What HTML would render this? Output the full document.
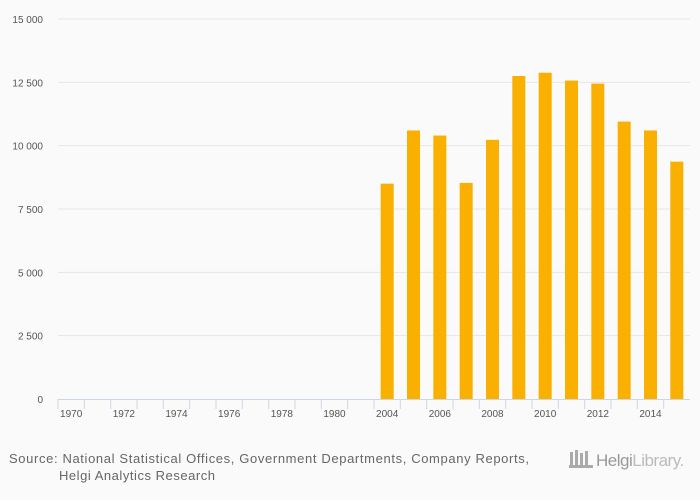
<!DOCTYPE html>
<html><head><meta charset="utf-8"><style>
body{margin:0;background:#fafafa;}
svg{display:block;font-family:"Liberation Sans",sans-serif;}
</style></head><body>
<svg width="700" height="500" id="c">
<rect width="700" height="500" fill="#fafafa"/>
<g id="grid"></g><g id="bars"></g><g id="xaxis"></g>
<text x="9" y="463" font-size="13" fill="#666" textLength="520" lengthAdjust="spacing">Source: National Statistical Offices, Government Departments, Company Reports,</text>
<text x="59" y="480" font-size="13" fill="#666" textLength="156" lengthAdjust="spacing">Helgi Analytics Research</text>
<g>
<rect x="570" y="452" width="3" height="14" fill="#aaa"/><rect x="575" y="450" width="3" height="16" fill="#aaa"/><rect x="580" y="453" width="3" height="13" fill="#aaa"/><rect x="585" y="451" width="3" height="15" fill="#aaa"/><rect x="569" y="465" width="24" height="3" fill="#aaa"/>
<text x="596" y="466" font-size="17" fill="#999" letter-spacing="-0.5">Helgi<tspan fill="#bbb">Library.</tspan></text>
</g>
</svg>
<script>
const categories=["1970","1971","1972","1973","1974","1975","1976","1977","1978","1979","1980","1981","2004","2005","2006","2007","2008","2009","2010","2011","2012","2013","2014","2015"];
const values=[null,null,null,null,null,null,null,null,null,null,null,null,8500,10600,10400,8530,10230,12750,12880,12570,12450,10950,10600,9370];
const yTicks=[0,2500,5000,7500,10000,12500,15000];
const yTickLabels=["0","2 500","5 000","7 500","10 000","12 500","15 000"];
const NS="http://www.w3.org/2000/svg";
const x0=58,x1=690,y0=399,y1=19,yMax=15000;
const bw=(x1-x0)/categories.length;
const y=v=>y0-(v/yMax)*(y0-y1);
function mk(t,a,p){const e=document.createElementNS(NS,t);for(const k in a)e.setAttribute(k,a[k]);p.appendChild(e);return e;}
const grid=document.getElementById('grid'),bars=document.getElementById('bars'),xa=document.getElementById('xaxis');
yTicks.forEach((v,i)=>{
 if(v>0){const l=mk('line',{x1:x0,x2:x1,y1:y(v),y2:y(v),stroke:'#e6e6e6','stroke-width':1},grid);
 
 }
 const t=mk('text',{x:43,y:y(v)+4,'font-size':10,fill:'#555','text-anchor':'end'},grid);
 t.textContent=yTickLabels[i];
 
 
});
const ax=mk('line',{x1:x0,x2:x1,y1:y0+0.5,y2:y0+0.5,stroke:'#ccd6eb','stroke-width':1},xa);


categories.forEach((c,i)=>{
 const tx=x0+i*bw;
 const tk=mk('line',{x1:tx,x2:tx,y1:y0,y2:y0+10,stroke:'#ccd6eb'},xa);
 
 
 if(i%2==0){const t=mk('text',{x:tx+bw/2,y:y0+18,'font-size':10,fill:'#555','text-anchor':'middle'},xa);
 t.textContent=c;
 
 }
 const v=values[i];
 if(v!=null){const w=13;const r=mk('rect',{x:tx+bw/2-w/2,y:y(v),width:w,height:y0-y(v),fill:'#f9b000'},bars);
 
 }
});
</script>
</body></html>
